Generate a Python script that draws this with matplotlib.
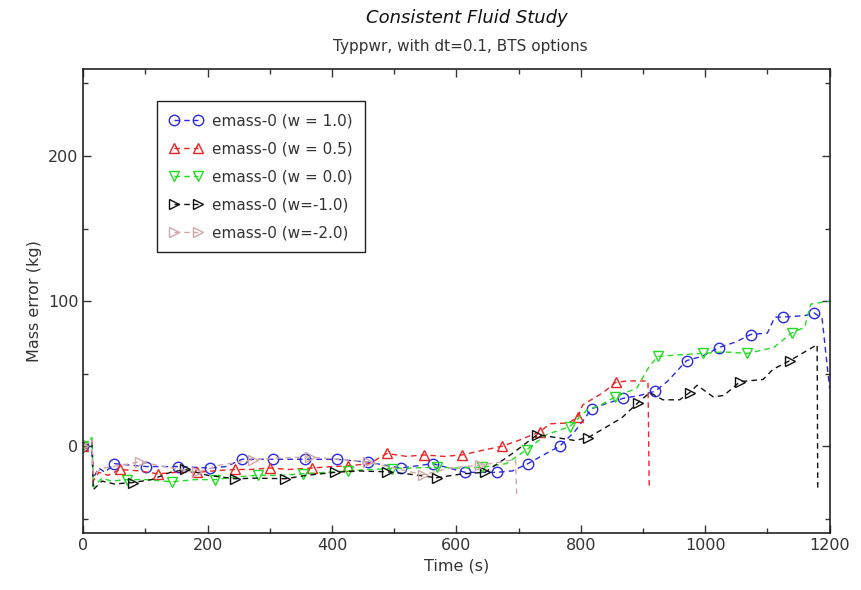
import numpy as np
import matplotlib
matplotlib.use("Agg")
import matplotlib.pyplot as plt
from matplotlib.ticker import MultipleLocator

# series data: line vertices (time, value) and marker times
t_w10 = [0, 14, 16, 25, 35, 50, 101, 152, 204, 230, 255, 305, 356, 408, 458, 511, 562, 614, 665,
         690, 715, 740, 766, 790, 818, 845, 868, 895, 920, 940, 970, 995, 1022, 1050, 1073, 1100,
         1112, 1125, 1160, 1175, 1188, 1200]
v_w10 = [0, 3, -22, -15, -18, -12, -14, -14, -15, -14, -9, -9, -9, -9, -11, -15, -12, -18, -18,
         -17, -12, -6, 0, 10, 26, 30, 33, 35, 38, 45, 59, 62, 68, 72, 77, 78,
         89, 89, 90, 92, 88, 40]
m_w10 = [0, 50, 101, 152, 204, 255, 305, 356, 408, 458, 511, 562, 614, 665, 715, 766, 818, 868,
         920, 970, 1022, 1073, 1125, 1175]

t_w05 = [0, 14, 16, 25, 40, 59, 90, 120, 150, 183, 210, 244, 270, 300, 330, 368, 400, 426, 460,
         488, 520, 548, 580, 609, 640, 673, 700, 734, 751, 780, 795, 803, 836, 856, 875, 908, 910]
v_w05 = [0, 4, -24, -18, -20, -16, -17, -19, -18, -18, -17, -16, -16, -15, -16, -15, -14, -13.5, -12,
         -5, -7, -6, -7, -6, -3, 0, 4, 10, 15.5, 16, 20, 28.5, 37, 44, 45, 45, -28]
m_w05 = [0, 59, 120, 183, 244, 300, 368, 426, 488, 548, 609, 673, 734, 795, 856]

t_w00 = [0, 14, 16, 30, 45, 70, 100, 143, 180, 212, 250, 281, 320, 353, 390, 426, 460, 496, 530,
         568, 600, 641, 680, 713, 745, 782, 810, 830, 855, 890, 910, 924, 960, 996, 1030, 1068,
         1110, 1139, 1160, 1170, 1200]
v_w00 = [0, 6, -28, -22, -24, -23, -23, -24.5, -23, -23, -21, -20, -20, -19, -18, -17, -16, -15.5, -15,
         -14.5, -15, -14.5, -12, -2.4, 8, 13.5, 25, 28, 34, 40, 55, 62, 63, 64, 65, 64,
         68, 78, 82, 98, 100]
m_w00 = [0, 70, 143, 212, 281, 353, 426, 496, 568, 641, 713, 782, 855, 924, 996, 1068, 1139]

t_wm1 = [0, 14, 16, 30, 50, 80, 110, 140, 164, 200, 244, 280, 325, 360, 405, 440, 488, 520, 568,
         610, 646, 690, 730, 760, 790, 812, 842, 866, 892, 911, 932, 959, 975, 987, 1013, 1030,
         1056, 1093, 1109, 1136, 1160, 1180, 1181]
v_wm1 = [0, 3, -30, -24, -26, -25, -23, -18, -16, -20, -22.4, -22, -22.4, -20, -18, -17, -17.6, -19, -21.7,
         -19, -18, -5, 8, 6, 4, 6, 13.5, 19.6, 30, 37, 32, 32, 37, 42, 34, 35,
         44.5, 46, 53, 59, 65, 70, -30]
m_wm1 = [0, 80, 164, 244, 325, 405, 488, 568, 646, 730, 812, 892, 975, 1056, 1136]

t_wm2 = [0, 14, 16, 30, 50, 91, 130, 183, 220, 273, 320, 365, 410, 458, 500, 546, 590, 638, 670,
         695, 697]
v_wm2 = [0, 4, -20, -15, -14, -10.7, -14, -18, -13, -9.3, -8, -7.4, -9, -11, -15, -19.7, -15, -13, -11,
         -9, -35]
m_wm2 = [0, 91, 183, 273, 365, 458, 546, 638]

labels = ["emass-0 (w = 1.0)", "emass-0 (w = 0.5)", "emass-0 (w = 0.0)",
          "emass-0 (w=-1.0)", "emass-0 (w=-2.0)"]

series = [(t_w10, v_w10, m_w10, "#2a2ae6", "o"),
          (t_w05, v_w05, m_w05, "#ee2222", "^"),
          (t_w00, v_w00, m_w00, "#22dd22", "v"),
          (t_wm1, v_wm1, m_wm1, "#111111", ">"),
          (t_wm2, v_wm2, m_wm2, "#d0a8a8", ">")]

fig = plt.figure(figsize=(8.61, 5.90), dpi=100)
ax = fig.add_axes([0.0967, 0.0961, 0.8668, 0.787])

for (t, v, m, col, mk), lab in zip(series, labels):
    t = np.array(t)
    idx = list(np.where(np.isin(t, m))[0])
    ax.plot(t, v, linestyle=(0, (4, 3)), lw=1.0, color=col, marker=mk, markevery=idx,
            markersize=7.5, markerfacecolor="none", markeredgecolor=col, markeredgewidth=1.0,
            label=lab)

ax.set_xlim(0, 1200)
ax.set_ylim(-60, 260)
ax.xaxis.set_major_locator(MultipleLocator(200))
ax.xaxis.set_minor_locator(MultipleLocator(100))
ax.yaxis.set_major_locator(MultipleLocator(100))
ax.yaxis.set_minor_locator(MultipleLocator(50))
ax.tick_params(which="both", direction="in", top=True, right=True, labelsize=11.5, colors="#333333")
ax.tick_params(which="major", length=6, width=1)
ax.tick_params(which="minor", length=3.5, width=1)
for s in ax.spines.values():
    s.set_linewidth(1.2)
    s.set_color("#222222")

ax.set_xlabel("Time (s)", fontsize=11.5, color="#333333")
ax.set_ylabel("Mass error (kg)", fontsize=11.5, color="#333333")

fig.text(0.542, 0.969, "Consistent Fluid Study", ha="center", va="center",
         fontsize=13, style="italic", color="#111111")
fig.text(0.535, 0.922, "Typpwr, with dt=0.1, BTS options", ha="center", va="center",
         fontsize=11, color="#333333")

leg = ax.legend(loc="upper left", bbox_to_anchor=(0.0988, 0.931), borderaxespad=0,
                fontsize=11, numpoints=2, handlelength=2.2, handletextpad=0.6,
                labelspacing=0.85, borderpad=0.8, fancybox=False, framealpha=1,
                edgecolor="#222222")
leg.get_frame().set_linewidth(1.0)
for txt in leg.get_texts():
    txt.set_color("#333333")

fig.savefig("out.png", dpi=100)
